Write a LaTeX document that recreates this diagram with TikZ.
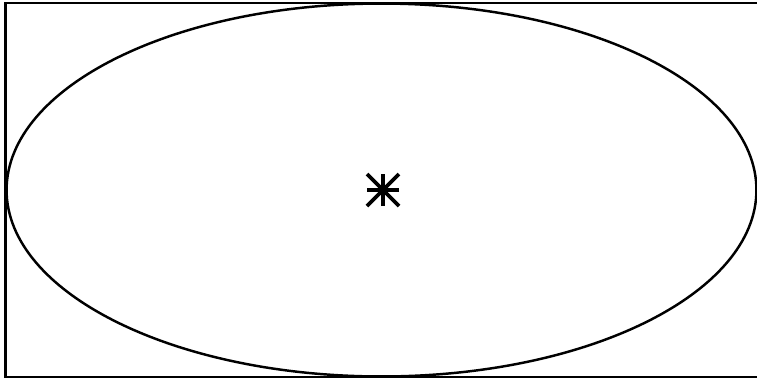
\documentclass[tikz,border=0pt]{standalone}
\usepackage{tikz}
\usetikzlibrary{shapes.geometric,calc}

\begin{document}
\begin{tikzpicture}[x=0.02cm, y=-0.02cm, line width=1.4pt]
  \useasboundingbox (0,0) rectangle (757,380);
  \draw (5.5,3) rectangle (760,377);
  \node[draw, ellipse, inner sep=0pt, minimum width=15.0cm, minimum height=7.46cm] (orbit) at (381.5,190) {};
  % star at the centre
  \coordinate (centre) at (383,190);
  \foreach \dx/\dy in {16/0, 0/16, 16/16, 16/-16}
    \draw[line width=2.2pt] ($(centre)+(\dx,\dy)$) -- ($(centre)-(\dx,\dy)$);
\end{tikzpicture}
\end{document}
